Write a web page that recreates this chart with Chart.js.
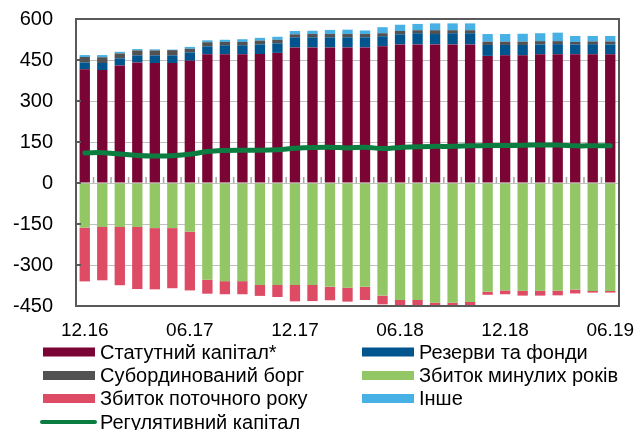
<!DOCTYPE html>
<html>
<head>
<meta charset="utf-8">
<script src="https://cdn.jsdelivr.net/npm/chart.js@4.4.1/dist/chart.umd.min.js"></script>
<style>
    html, body { margin: 0; padding: 0; background: #fff; }
    #capitalWrap { position: relative; width: 638px; height: 430px; }
</style>
</head>
<body>
<div id="capitalWrap"><canvas id="capitalChart"></canvas></div>
<script>
const months = ['12.16', '01.17', '02.17', '03.17', '04.17', '05.17', '06.17', '07.17', '08.17', '09.17', '10.17', '11.17',
    '12.17', '01.18', '02.18', '03.18', '04.18', '05.18', '06.18', '07.18', '08.18', '09.18', '10.18', '11.18',
    '12.18', '01.19', '02.19', '03.19', '04.19', '05.19', '06.19'];

const statutory   = [416, 413, 430, 441, 439, 439, 447, 471, 471, 471, 472, 476, 496, 496, 496, 496, 496, 500, 507, 507, 507, 507, 507, 465, 467, 467, 471, 471, 471, 471, 471];
const reserves    = [25, 26, 26, 26, 28, 28, 31, 29, 33, 33, 35, 35, 37, 37, 37, 37, 37, 37, 37, 41, 38, 41, 41, 40, 38, 38, 36, 37, 36, 37, 36];
const subDebt     = [20, 21, 18, 18, 18, 19, 13, 15, 12, 12, 14, 13, 11, 12, 12, 12, 12, 11, 12, 11, 14, 11, 11, 12, 12, 12, 12, 11, 9, 10, 11];
const other       = [7, 8, 6, 5, 4, 2, 7, 7, 8, 10, 10, 11, 12, 12, 15, 16, 13, 22, 23, 23, 25, 25, 25, 28, 28, 29, 29, 31, 22, 20, 20];
const pastLoss    = [-163, -161, -161, -161, -165, -165, -178, -354, -359, -359, -373, -373, -373, -373, -380, -383, -380, -412, -428, -428, -438, -438, -435, -398, -393, -394, -394, -394, -390, -395, -395];
const currentLoss = [-197, -195, -213, -227, -224, -220, -215, -51, -48, -48, -40, -44, -60, -59, -49, -51, -48, -32, -20, -20, -11, -11, -14, -11, -14, -18, -18, -17, -14, -6, -6];
const regulatory  = [110, 111, 106, 101, 99, 100, 105, 115, 119, 120, 120, 122, 127, 130, 131, 128, 131, 126, 130, 133, 134, 134, 136, 137, 137, 138, 139, 139, 136, 136, 136];

const yTicks = { min: -450, max: 600, step: 150 };
const labelEvery = 6;

const FONT = "'Liberation Sans', Arial, sans-serif";

function barSet(label, data, color) {
    return {
        type: 'bar', label: label, data: data, backgroundColor: color,
        borderWidth: 0, categoryPercentage: 1, barPercentage: 0.59, order: 1
    };
}

const datasets = [
    barSet('Статутний капітал*', statutory, '#7a0534'),
    barSet('Резерви та фонди', reserves, '#00558f'),
    barSet('Субординований борг', subDebt, '#525252'),
    barSet('Інше', other, '#47b0e5'),
    barSet('Збиток минулих років', pastLoss, '#93c665'),
    barSet('Збиток поточного року', currentLoss, '#dd4b65'),
    {
        type: 'line', label: 'Регулятивний капітал', data: regulatory,
        borderColor: '#0b7d41', borderWidth: 5, tension: 0.4,
        pointRadius: 0, borderCapStyle: 'round', stack: 'reg', order: 0
    }
];

// two-column legend under the axis: [dataset index, column, row]
const legendLayout = [
    [0, 0, 0], [1, 1, 0],
    [2, 0, 1], [4, 1, 1],
    [5, 0, 2], [3, 1, 2],
    [6, 0, 3]
];

const framePlugin = {
    id: 'frame',
    afterDatasetsDraw(chart) {
        const { ctx, chartArea: a, scales: { x, y } } = chart;
        ctx.save();
        // short category marks standing on the zero line
        const y0 = y.getPixelForValue(0);
        ctx.strokeStyle = '#a6a6a6';
        ctx.lineWidth = 1.5;
        ctx.beginPath();
        for (let i = 0; i < months.length - 1; i++) {
            const xm = (x.getPixelForValue(i) + x.getPixelForValue(i + 1)) / 2;
            ctx.moveTo(xm, y0);
            ctx.lineTo(xm, y0 - 6);
        }
        ctx.stroke();

        ctx.strokeStyle = '#595959';
        ctx.lineWidth = 2;
        ctx.strokeRect(a.left, a.top, a.right - a.left, a.bottom - a.top);
        ctx.beginPath();
        y.ticks.forEach(t => {
            const py = y.getPixelForValue(t.value);
            ctx.moveTo(a.left, py);
            ctx.lineTo(a.left + 5, py);
        });
        ctx.stroke();
        ctx.restore();
    },
    afterDraw(chart) {
        const ctx = chart.ctx;
        const colX = [43, 362], rowY = [352, 375.5, 398.5, 422];
        ctx.save();
        ctx.font = '20px ' + FONT;
        ctx.textBaseline = 'middle';
        legendLayout.forEach(([idx, col, row]) => {
            const ds = chart.data.datasets[idx];
            const sx = colX[col], sy = rowY[row];
            if (ds.type === 'line') {
                ctx.strokeStyle = ds.borderColor;
                ctx.lineWidth = 4;
                ctx.lineCap = 'round';
                ctx.beginPath();
                ctx.moveTo(sx - 1, sy);
                ctx.lineTo(sx + 52, sy);
                ctx.stroke();
            } else {
                ctx.fillStyle = ds.backgroundColor;
                ctx.fillRect(sx, sy - 4.5, 52, 9);
            }
            ctx.fillStyle = '#000';
            ctx.fillText(ds.label, sx + 57, sy + 1);
        });
        ctx.restore();
    }
};

new Chart(document.getElementById('capitalChart'), {
    data: { labels: months, datasets: datasets },
    options: {
        responsive: true,
        maintainAspectRatio: false,
        animation: false,
        layout: { padding: { left: 0, right: 19, top: 19, bottom: 84 } },
        plugins: { legend: { display: false }, tooltip: { enabled: false } },
        scales: {
            x: {
                stacked: true,
                grid: { display: false, drawTicks: false },
                border: { display: false },
                ticks: {
                    autoSkip: false, maxRotation: 0, padding: 13,
                    color: '#000', font: { family: FONT, size: 19 },
                    callback: (v, i) => i % labelEvery === 0 ? months[i] : ''
                },
                afterFit: s => { s.height = 40; s.paddingLeft = 0; s.paddingRight = 0; }
            },
            y: {
                stacked: true,
                min: yTicks.min, max: yTicks.max,
                grid: { color: '#c0c0c0', lineWidth: 1, drawTicks: false },
                border: { display: false },
                ticks: {
                    stepSize: yTicks.step, padding: 23,
                    color: '#000', font: { family: FONT, size: 20 }
                },
                afterFit: s => { s.width = 76; s.paddingTop = 0; s.paddingBottom = 0; }
            }
        }
    },
    plugins: [framePlugin]
});
</script>
</body>
</html>
